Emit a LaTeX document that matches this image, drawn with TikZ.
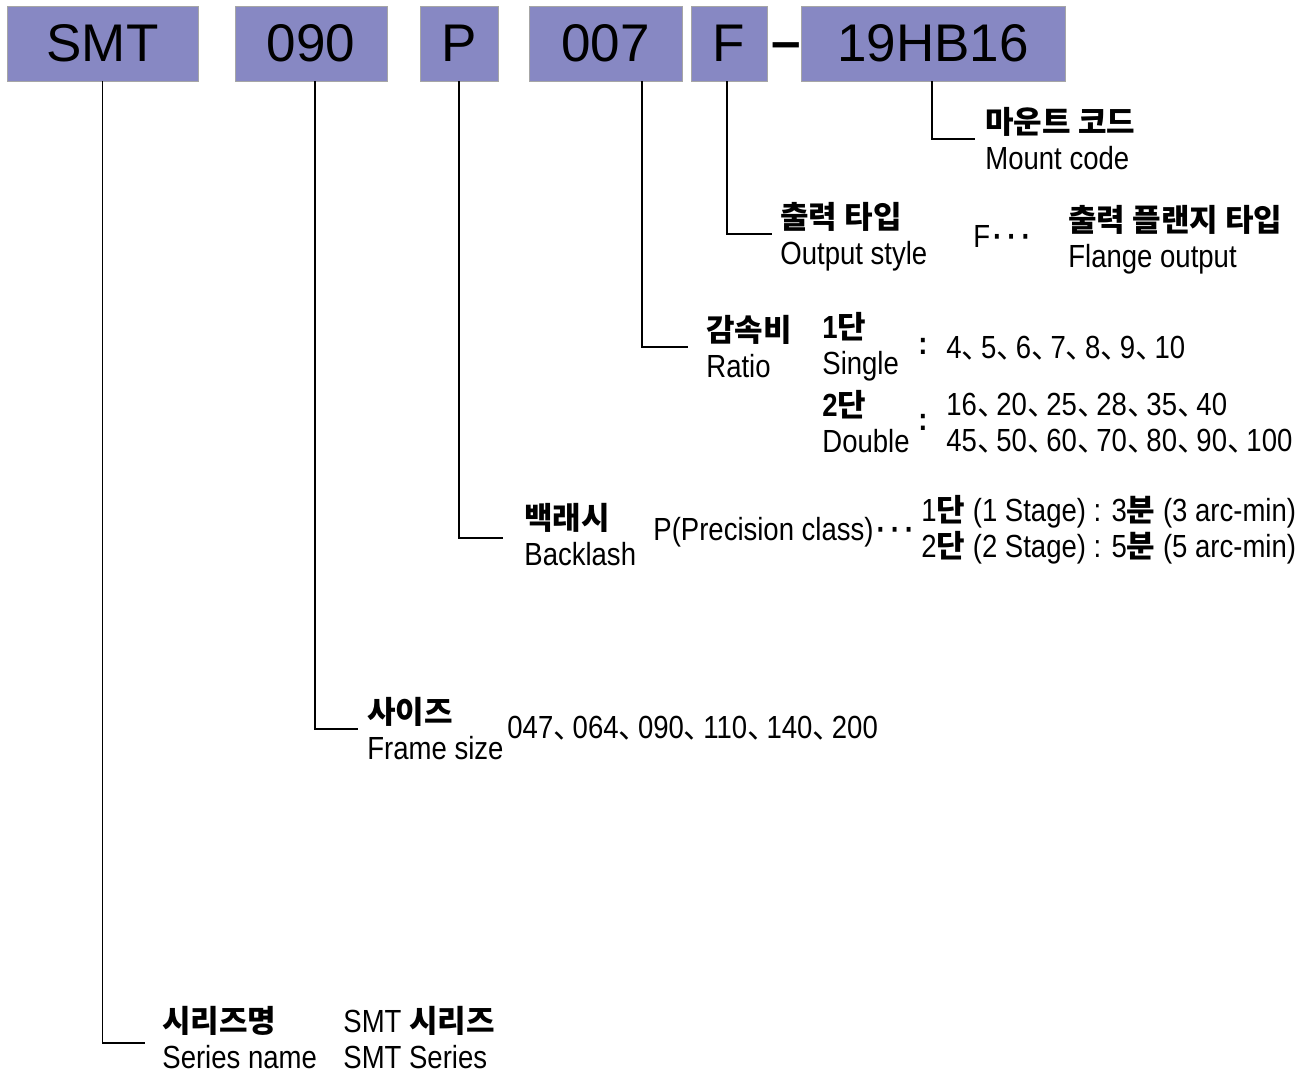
\documentclass[tikz,border=0pt]{standalone}
\usepackage{fontspec}
\setmainfont{Liberation Sans}
\newfontfamily\codefam{Liberation Sans}
\newfontfamily\englfam[FakeStretch=0.86]{Liberation Sans}
\newfontfamily\korfam{Noto Sans CJK KR}
\definecolor{boxblue}{RGB}{135,136,195}
\newcommand\codefont{\codefam\fontsize{26.5}{30}\selectfont}
\newcommand\engl{\englfam\fontsize{16}{18}\selectfont}
\newcommand\korb{\korfam\bfseries\fontsize{15.5}{18}\selectfont}
\newcommand\kcomma{{\korfam\fontsize{15}{18}\selectfont 、}\kern-5.3pt}
\newcommand\tridot{{\bfseries\kern1.5pt·\kern2.5pt·\kern2.5pt·}}
\newcommand\duo[2]{{\korb #1}\\{\engl #2}}

\begin{document}
\begin{tikzpicture}[x=0.5pt,y=-0.5pt,
    code/.style={draw=black!35,line width=0.4pt,fill=boxblue,inner sep=0pt,
        minimum height=37.5pt,font=\codefont},
    lbl/.style={anchor=west,align=left,inner sep=0pt,font=\engl},
    wire/.style={line width=0.8pt}]
    \useasboundingbox (0,0) rectangle (1316,1075);

    % model code boxes
    \node[code,minimum width=95.5pt] (smt) at (102.5,43.5) {SMT};
    \node[code,minimum width=76pt] (frame) at (311,43.5) {090};
    \node[code,minimum width=39pt] (prec) at (459,43.5) {P};
    \node[code,minimum width=76.5pt] (ratio) at (605.5,43.5) {007};
    \node[code,minimum width=38pt] (outp) at (729,43.5) {F};
    \node[font=\codefont\bfseries,inner sep=0pt] (dash) at (786,51) {\textendash};
    \node[code,minimum width=132pt] (mount) at (933,43.5) {19HB16};

    % explanations
    \node[lbl] (lmount) at (985,139) {\duo{마운트 코드}{Mount code}};
    \node[lbl] (lout) at (780,237) {\duo{출력 타입}{Output style}};
    \node[lbl] (fdots) at (973,236) {F\tridot};
    \node[lbl] (flange) at (1068,240) {\duo{출력 플랜지 타입}{Flange output}};

    \node[lbl] (lratio) at (706,347) {\duo{감속비}{Ratio}};
    \node[lbl] (single) at (822,347) {\duo{{\engl 1}단}{Single}};
    \node[lbl] (double) at (822,422) {\duo{{\engl 2}단}{Double}};
    \node[lbl,font=\engl\bfseries] (colA) at (918,346) {:};
    \node[lbl,font=\engl\bfseries] (colB) at (918,422) {:};
    \node[lbl] (rone) at (946,348) {4\kcomma 5\kcomma 6\kcomma 7\kcomma 8\kcomma 9\kcomma 10};
    \node[lbl] (rtwo) at (946,423) {16\kcomma 20\kcomma 25\kcomma 28\kcomma 35\kcomma 40\\
        45\kcomma 50\kcomma 60\kcomma 70\kcomma 80\kcomma 90\kcomma 100};

    \node[lbl] (lback) at (524,535) {\duo{백래시}{Backlash}};
    \node[lbl] (pclass) at (653,532) {P(Precision class)\tridot};
    \node[lbl] (stages) at (921,530) {1{\korb 단} (1 Stage) : 3{\korb 분} (3 arc-min)\\
        2{\korb 단} (2 Stage) : 5{\korb 분} (5 arc-min)};

    \node[lbl] (lsize) at (367,729) {\duo{사이즈}{Frame size}};
    \node[lbl] (sizes) at (507,728) {047\kcomma 064\kcomma 090\kcomma 110\kcomma 140\kcomma 200};

    \node[lbl] (lser) at (162,1038) {\duo{시리즈명}{Series name}};
    \node[lbl] (smtser) at (343,1038) {SMT {\korb 시리즈}\\SMT Series};

    % connectors
    \draw[wire] (smt.south) |- ([xshift=-8.5pt,yshift=-2.5pt]lser.west);
    \draw[wire] ([xshift=2pt]frame.south) |- ([xshift=-4.5pt]lsize.west);
    \draw[wire] (prec.south) |- ([xshift=-10.5pt,yshift=-1.5pt]lback.west);
    \draw[wire] ([xshift=18.25pt]ratio.south) |- ([xshift=-9pt]lratio.west);
    \draw[wire] ([xshift=-1pt]outp.south) |- ([xshift=-4pt,yshift=1.5pt]lout.west);
    \draw[wire] ([xshift=-0.5pt]mount.south) |- ([xshift=-5pt]lmount.west);
\end{tikzpicture}
\end{document}
